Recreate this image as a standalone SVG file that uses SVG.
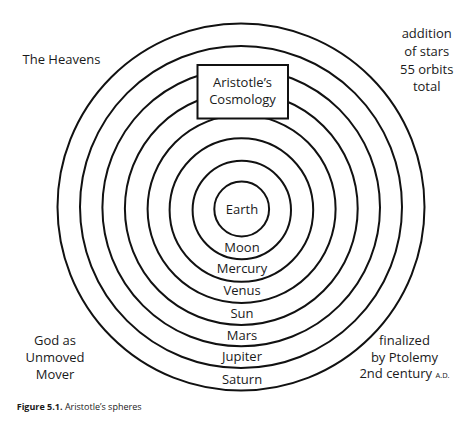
<svg xmlns="http://www.w3.org/2000/svg" width="474" height="431" viewBox="0 0 474 431">
  <style>
    .orbit { fill: none; stroke: #111; stroke-width: 2; }
    .lbl { font-family: "Open Sans", "Noto Sans", sans-serif; font-size: 13px; fill: #1a1a1a; text-anchor: middle; }
    .side { font-family: "Open Sans", "Noto Sans", sans-serif; font-size: 13px; fill: #1a1a1a; }
    .cap { font-family: "Open Sans", "Noto Sans", sans-serif; font-size: 9px; fill: #1a1a1a; }
    .box { fill: #fff; stroke: #111; stroke-width: 2; }
  </style>
  <rect x="0" y="0" width="474" height="431" fill="#fff"/>

  <g id="saturn"><circle class="orbit" cx="241" cy="207" r="183.5"/><text class="lbl" x="242" y="383.5">Saturn</text></g>
  <g id="jupiter"><circle class="orbit" cx="241" cy="207" r="161"/><text class="lbl" x="242" y="360.5">Jupiter</text></g>
  <g id="mars"><circle class="orbit" cx="241.2" cy="207.5" r="138.8"/><text class="lbl" x="242" y="339.5">Mars</text></g>
  <g id="sun"><circle class="orbit" cx="241.3" cy="208.5" r="116.4"/><text class="lbl" x="242" y="318">Sun</text></g>
  <g id="venus"><circle class="orbit" cx="241.6" cy="209" r="94"/><text class="lbl" x="242" y="295">Venus</text></g>
  <g id="mercury"><circle class="orbit" cx="241.4" cy="210" r="71.8"/><text class="lbl" x="242" y="272.5">Mercury</text></g>
  <g id="moon"><circle class="orbit" cx="241.8" cy="210" r="49.2"/><text class="lbl" x="242" y="251.5">Moon</text></g>
  <g id="earth"><circle class="orbit" cx="241.7" cy="209" r="27.4"/><text class="lbl" x="242" y="214">Earth</text></g>

  <g id="cosmology-box">
    <rect class="box" x="197.5" y="65" width="90.5" height="53.5"/>
    <text class="lbl" x="242.5" y="86.5">Aristotle’s</text>
    <text class="lbl" x="242.5" y="103.5">Cosmology</text>
  </g>

  <g id="connectors"/>

  <g id="heavens"><text class="side" x="22.5" y="64">The Heavens</text></g>

  <g id="stars">
    <text class="lbl" x="426.7" y="38.3">addition</text>
    <text class="lbl" x="426.7" y="56">of stars</text>
    <text class="lbl" x="426.7" y="73.7">55 orbits</text>
    <text class="lbl" x="426.7" y="91.3">total</text>
  </g>

  <g id="god">
    <text class="lbl" x="55" y="345">God as</text>
    <text class="lbl" x="55" y="362.3">Unmoved</text>
    <text class="lbl" x="55" y="379">Mover</text>
  </g>

  <g id="ptolemy">
    <text class="lbl" x="404.5" y="345">finalized</text>
    <text class="lbl" x="404.5" y="361.7">by Ptolemy</text>
    <text class="lbl" x="404.5" y="378.3">2nd century <tspan font-size="7.5px">A.D.</tspan></text>
  </g>

  <g id="caption">
    <text class="cap" x="16.7" y="410"><tspan font-weight="bold">Figure 5.1.</tspan> Aristotle’s spheres</text>
  </g>
</svg>
